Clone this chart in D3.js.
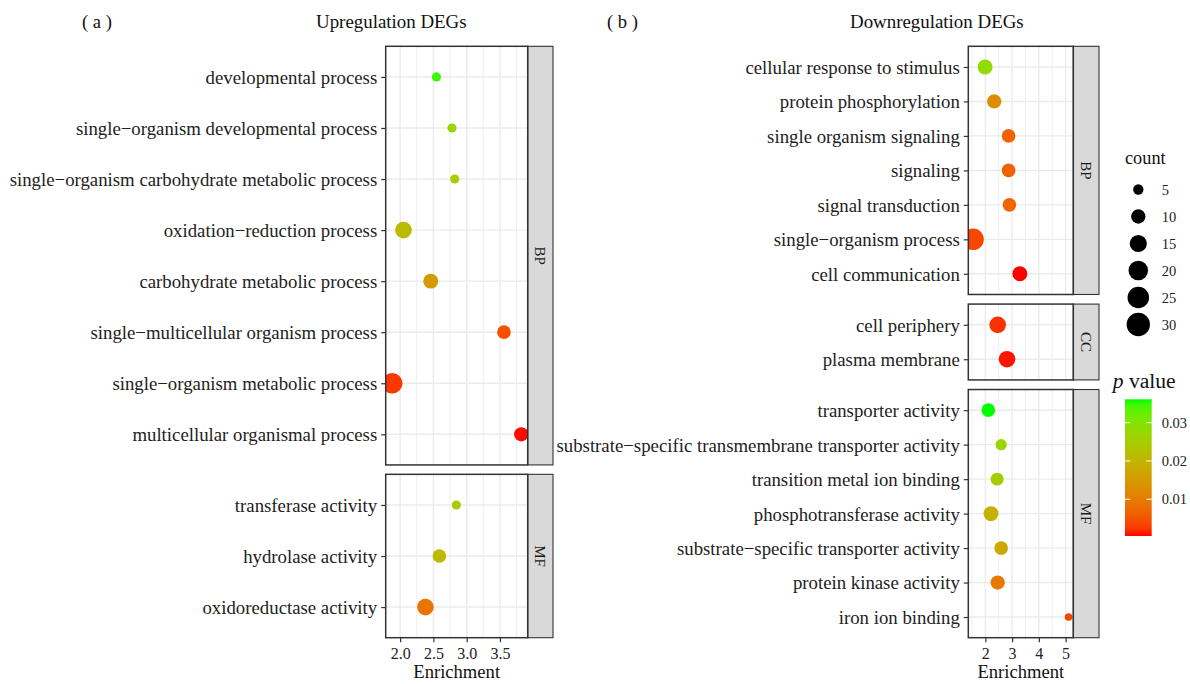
<!DOCTYPE html>
<html>
<head>
<meta charset="utf-8">
<script src="https://cdn.jsdelivr.net/npm/d3@7"></script>
<style>
  body { margin: 0; background: #fff; }
  svg { display: block; }
  text { font-family: "Liberation Serif", "Times New Roman", serif; }
</style>
</head>
<body>
<svg id="chart" width="1190" height="684"></svg>
<script>
// ---- data ----
var upTerms = [
  "developmental process",
  "single\u2212organism developmental process",
  "single\u2212organism carbohydrate metabolic process",
  "oxidation\u2212reduction process",
  "carbohydrate metabolic process",
  "single\u2212multicellular organism process",
  "single\u2212organism metabolic process",
  "multicellular organismal process",
  "transferase activity",
  "hydrolase activity",
  "oxidoreductase activity"
];
var upOntology = ["BP", "BP", "BP", "BP", "BP", "BP", "BP", "BP", "MF", "MF", "MF"];
var upEnrichment = [2.545, 2.78, 2.82, 2.05, 2.46, 3.56, 1.88, 3.82, 2.845, 2.59, 2.38];
var upCount = [4, 4, 4, 14, 11, 9, 23, 10, 4, 9, 14];
var upPValue = [0.035, 0.026, 0.025, 0.021, 0.015, 0.0045, 0.0025, 0.0006, 0.024, 0.021, 0.009];

var downTerms = [
  "cellular response to stimulus",
  "protein phosphorylation",
  "single organism signaling",
  "signaling",
  "signal transduction",
  "single\u2212organism process",
  "cell communication",
  "cell periphery",
  "plasma membrane",
  "transporter activity",
  "substrate\u2212specific transmembrane transporter activity",
  "transition metal ion binding",
  "phosphotransferase activity",
  "substrate\u2212specific transporter activity",
  "protein kinase activity",
  "iron ion binding"
];
var downOntology = ["BP", "BP", "BP", "BP", "BP", "BP", "BP", "CC", "CC",
                    "MF", "MF", "MF", "MF", "MF", "MF", "MF"];
var downEnrichment = [1.99, 2.33, 2.87, 2.87, 2.90, 1.54, 3.29, 2.46, 2.81,
                      2.11, 2.59, 2.44, 2.21, 2.59, 2.46, 5.11];
var downCount = [11, 10, 9, 9, 9, 25, 11, 14, 14, 9, 6, 8, 11, 9, 10, 3];
var downPValue = [0.028, 0.013, 0.0065, 0.0065, 0.007, 0.0035, 0.0004, 0.002, 0.0008,
                  0.0361, 0.027, 0.025, 0.0195, 0.018, 0.0095, 0.0035];

var ontologyOrder = ["BP", "CC", "MF"];
var countBreaks = [5, 10, 15, 20, 25, 30];
var pBreaks = [0.01, 0.02, 0.03];
var countLimits = [2, 32];

var svg = d3.select("#chart");

// colour: red (low p) to green (high p), Lab interpolation like ggplot
var pExtent = d3.extent(upPValue.concat(downPValue));
var color = d3.scaleLinear().domain(pExtent).range(["#ff0000", "#00ff00"]).interpolate(d3.interpolateLab);

// size: area scale for count
var rScale = d3.scaleLinear().domain([0, 1]).range([2, 12]);
function radius(c) {
    var t = (c - countLimits[0]) / (countLimits[1] - countLimits[0]);
    return rScale(Math.sqrt(Math.max(0, t)));
}

var gridCol = "#ebebeb";
var lineCol = "#333333";
var textCol = "#222222";

function drawPanel(p) {
    var rows = p.terms.map(function (t, i) {
        return { term: t, onto: p.onto[i], x: p.enrich[i], count: p.count[i], pv: p.pv[i] };
    });
    var ext = d3.extent(p.enrich);
    var pad = (ext[1] - ext[0]) * 0.05;
    var x = d3.scaleLinear().domain([ext[0] - pad, ext[1] + pad]).range([p.x0, p.x1]);

    var step = p.ticks[1] - p.ticks[0];
    var minor = [p.ticks[0] - step / 2].concat(p.ticks.map(function (t) { return t + step / 2; }))
        .filter(function (v) { return v > x.domain()[0] && v < x.domain()[1]; });

    var facets = ontologyOrder.filter(function (o) { return p.onto.indexOf(o) >= 0; });
    var units = d3.sum(facets, function (f) { return rows.filter(function (r) { return r.onto === f; }).length + 0.2; });
    var u = (p.bottom - p.top - p.gap * (facets.length - 1)) / units;

    var yTop = p.top;
    facets.forEach(function (f, k) {
        var frows = rows.filter(function (r) { return r.onto === f; });
        var h = (frows.length + 0.2) * u;
        var y = d3.scalePoint().domain(frows.map(function (r) { return r.term; }))
            .range([yTop, yTop + h]).padding(0.6);

        var g = svg.append("g");
        var clipId = "clip-" + p.id + "-" + f;
        g.append("clipPath").attr("id", clipId).append("rect")
            .attr("x", p.x0).attr("y", yTop).attr("width", p.x1 - p.x0).attr("height", h);

        g.selectAll("line.minor").data(minor).enter().append("line")
            .attr("x1", function (d) { return x(d); }).attr("x2", function (d) { return x(d); })
            .attr("y1", yTop).attr("y2", yTop + h)
            .attr("stroke", gridCol).attr("stroke-width", 0.8);
        g.selectAll("line.majorx").data(p.ticks).enter().append("line")
            .attr("x1", function (d) { return x(d); }).attr("x2", function (d) { return x(d); })
            .attr("y1", yTop).attr("y2", yTop + h)
            .attr("stroke", gridCol).attr("stroke-width", 1.4);
        g.selectAll("line.majory").data(frows).enter().append("line")
            .attr("x1", p.x0).attr("x2", p.x1)
            .attr("y1", function (d) { return y(d.term); }).attr("y2", function (d) { return y(d.term); })
            .attr("stroke", gridCol).attr("stroke-width", 1.4);

        g.append("g").attr("clip-path", "url(#" + clipId + ")")
            .selectAll("circle").data(frows).enter().append("circle")
            .attr("cx", function (d) { return x(d.x); })
            .attr("cy", function (d) { return y(d.term); })
            .attr("r", function (d) { return radius(d.count); })
            .attr("fill", function (d) { return color(d.pv); });

        // strip
        g.append("rect").attr("x", p.x1).attr("y", yTop).attr("width", p.stripW).attr("height", h)
            .attr("fill", "#d9d9d9").attr("stroke", lineCol).attr("stroke-width", 1.1);
        g.append("text")
            .attr("transform", "translate(" + (p.x1 + p.stripW / 2) + "," + (yTop + h / 2) + ") rotate(90)")
            .attr("text-anchor", "middle").attr("dy", "0.35em")
            .attr("font-size", 15).attr("fill", "#1a1a1a").text(f);

        g.append("rect").attr("x", p.x0).attr("y", yTop).attr("width", p.x1 - p.x0).attr("height", h)
            .attr("fill", "none").attr("stroke", lineCol).attr("stroke-width", 1.5);

        // y axis
        var ya = g.append("g").attr("transform", "translate(" + p.x0 + ",0)")
            .call(d3.axisLeft(y).tickSize(4.5).tickPadding(4));
        ya.select(".domain").remove();
        ya.selectAll("line").attr("stroke", lineCol).attr("stroke-width", 1.2);
        ya.selectAll("text").attr("font-size", 18.8).attr("fill", textCol)
            .attr("font-family", "Liberation Serif").attr("dy", "0.34em");

        yTop += h + p.gap;
    });

    // x axis
    var xa = svg.append("g").attr("transform", "translate(0," + p.bottom + ")")
        .call(d3.axisBottom(x).tickValues(p.ticks).tickFormat(d3.format(p.fmt)).tickSize(4.5).tickPadding(5));
    xa.select(".domain").remove();
    xa.selectAll("line").attr("stroke", lineCol).attr("stroke-width", 1.2);
    xa.selectAll("text").attr("font-size", 16).attr("fill", textCol).attr("font-family", "Liberation Serif");

    svg.append("text").attr("x", (p.x0 + p.x1) / 2).attr("y", 678)
        .attr("text-anchor", "middle").attr("font-size", 18.6).attr("fill", "#111").text("Enrichment");

    svg.append("text").attr("x", p.labelX).attr("y", 28.3).attr("font-size", 18.6).attr("fill", "#111").text(p.label);
    svg.append("text").attr("x", p.titleX).attr("y", 28.3).attr("font-size", 18.9).attr("fill", "#111").text(p.title);
}

drawPanel({
    id: "up", terms: upTerms, onto: upOntology, enrich: upEnrichment, count: upCount, pv: upPValue,
    x0: 385.7, x1: 527.7, stripW: 25.3, top: 46.3, bottom: 637.7, gap: 9.4,
    ticks: [2.0, 2.5, 3.0, 3.5], fmt: ".1f",
    label: "( a )", labelX: 82, title: "Upregulation DEGs", titleX: 316
});

drawPanel({
    id: "down", terms: downTerms, onto: downOntology, enrich: downEnrichment, count: downCount, pv: downPValue,
    x0: 968.3, x1: 1073.3, stripW: 25.7, top: 46.3, bottom: 637.7, gap: 9.6,
    ticks: [2, 3, 4, 5], fmt: "d",
    label: "( b )", labelX: 607, title: "Downregulation DEGs", titleX: 850
});

// ---- legends ----
var leg = svg.append("g");
leg.append("text").attr("x", 1125).attr("y", 164).attr("font-size", 18.3).attr("fill", "#111").text("count");
var ly = d3.scalePoint().domain(countBreaks).range([189.5, 324.5]);
leg.selectAll("circle.key").data(countBreaks).enter().append("circle")
    .attr("cx", 1138.3).attr("cy", function (d) { return ly(d); })
    .attr("r", function (d) { return radius(d); }).attr("fill", "#000");
leg.selectAll("text.key").data(countBreaks).enter().append("text")
    .attr("x", 1161.7).attr("y", function (d) { return ly(d); }).attr("dy", "0.35em")
    .attr("font-size", 14.5).attr("fill", textCol).text(function (d) { return d; });

var ptitle = leg.append("text").attr("x", 1112.7).attr("y", 388).attr("font-size", 21.6).attr("fill", "#111");
ptitle.append("tspan").attr("font-style", "italic").text("p");
ptitle.append("tspan").text(" value");

var barX = 1125, barW = 26.7;
var py = d3.scaleLinear().domain(pExtent).range([536, 399.3]);
var grad = svg.append("defs").append("linearGradient").attr("id", "pgrad")
    .attr("x1", 0).attr("y1", 1).attr("x2", 0).attr("y2", 0);
d3.range(0, 1.0001, 0.05).forEach(function (t) {
    var v = pExtent[0] + t * (pExtent[1] - pExtent[0]);
    grad.append("stop").attr("offset", t).attr("stop-color", color(v));
});
leg.append("rect").attr("x", barX).attr("y", py.range()[1]).attr("width", barW)
    .attr("height", py.range()[0] - py.range()[1]).attr("fill", "url(#pgrad)");
pBreaks.forEach(function (b) {
    leg.append("line").attr("x1", barX).attr("x2", barX + barW / 5)
        .attr("y1", py(b)).attr("y2", py(b)).attr("stroke", "#fff").attr("stroke-width", 1);
    leg.append("line").attr("x1", barX + barW * 4 / 5).attr("x2", barX + barW)
        .attr("y1", py(b)).attr("y2", py(b)).attr("stroke", "#fff").attr("stroke-width", 1);
});
leg.selectAll("text.pkey").data(pBreaks).enter().append("text")
    .attr("x", 1161.7).attr("y", function (d) { return py(d); }).attr("dy", "0.35em")
    .attr("font-size", 14.5).attr("fill", textCol).text(function (d) { return d3.format(".2f")(d); });
</script>
</body>
</html>
